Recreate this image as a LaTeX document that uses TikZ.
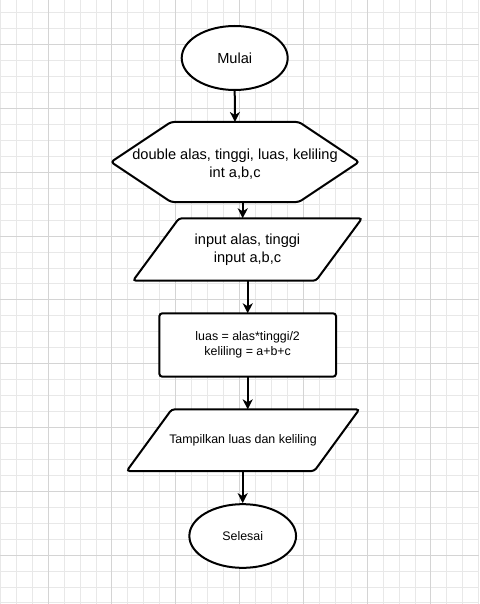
\documentclass[tikz,border=0pt]{standalone}
\usepackage{fontspec}
\setmainfont{Liberation Sans}
\usetikzlibrary{arrows.meta,shapes.geometric}
\begin{document}
\begin{tikzpicture}[x=1pt,y=-1pt,
    gridminor/.style={line width=1pt,black!9},
    gridmajor/.style={line width=1pt,black!17},
    box/.style={inner sep=2pt,outer sep=0pt,align=center},
    shapeline/.style={line width=2pt,black,rounded corners=3pt},
    arr/.style={line width=2pt,black,-{Stealth[length=10pt,width=10pt,inset=3pt]}}]
        \useasboundingbox (0,0) rectangle (479,604);
        \fill[white] (0,0) rectangle (479,604);
        % grid paper
        \foreach \i in {0,...,30}
            \draw[gridminor] ({0.3+15.95*\i},0) -- ({0.3+15.95*\i},604);
        \foreach \j in {0,...,37}
            \draw[gridminor] (0,{12.8+15.95*\j}) -- (479,{12.8+15.95*\j});
        \foreach \i in {3,7,...,27}
            \draw[gridmajor] ({0.3+15.95*\i},0) -- ({0.3+15.95*\i},604);
        \foreach \j in {2,6,...,34}
            \draw[gridmajor] (0,{12.8+15.95*\j}) -- (479,{12.8+15.95*\j});
        % flowchart
        \node[ellipse,draw,line width=2pt,fill=white,minimum width=106pt,minimum height=64pt,inner sep=0pt,font=\fontsize{14.6}{17}\selectfont] (start) at (234.7,58) {Mulai};
        \node[box,minimum width=248pt,minimum height=80pt] (hex) at (235,162) {};
        \filldraw[shapeline,fill=white] (hex.west) -- ([xshift=60pt]hex.north west) -- ([xshift=-60pt]hex.north east) -- (hex.east) -- ([xshift=-60pt]hex.south east) -- ([xshift=60pt]hex.south west) -- cycle;
        \node[box,font=\fontsize{14.6}{17.7}\selectfont] at ([yshift=-2pt]hex.center) {double alas, tinggi, luas, keliling\\int a,b,c};
        \node[box,minimum width=229pt,minimum height=62.4pt] (in1) at (247.5,249.5) {};
        \filldraw[shapeline,fill=white] ([xshift=46pt]in1.north west) -- (in1.north east) -- ([xshift=-46pt]in1.south east) -- (in1.south west) -- cycle;
        \node[box,font=\fontsize{14.6}{17.7}\selectfont] at (in1.center) {input alas, tinggi\\input a,b,c};
        \node[box,draw,line width=2pt,fill=white,rounded corners=3pt,minimum width=176.7pt,minimum height=63.4pt,font=\fontsize{12.4}{15}\selectfont] (proc) at (247.7,345) {luas = alas*tinggi/2\\keliling = a+b+c};
        \node[box,minimum width=232.6pt,minimum height=61.7pt] (out1) at (243,440.2) {};
        \filldraw[shapeline,fill=white] ([xshift=45pt]out1.north west) -- (out1.north east) -- ([xshift=-45pt]out1.south east) -- (out1.south west) -- cycle;
        \node[box,font=\fontsize{12.4}{15}\selectfont] at (out1.center) {Tampilkan luas dan keliling};
        \node[ellipse,draw,line width=2pt,fill=white,minimum width=106.7pt,minimum height=63.7pt,inner sep=0pt,font=\fontsize{12.4}{15}\selectfont] (sel) at (242.7,536) {Selesai};
        % connectors
        \draw[arr] (start.south) -- (hex.north);
        \draw[arr] (hex.south -| sel.center) -- (in1.north -| sel.center);
        \draw[arr] (in1.south -| proc.center) -- (proc.north);
        \draw[arr] (proc.south) -- (out1.north -| proc.center);
        \draw[arr] (out1.south -| sel.center) -- (sel.north);
\end{tikzpicture}
\end{document}
